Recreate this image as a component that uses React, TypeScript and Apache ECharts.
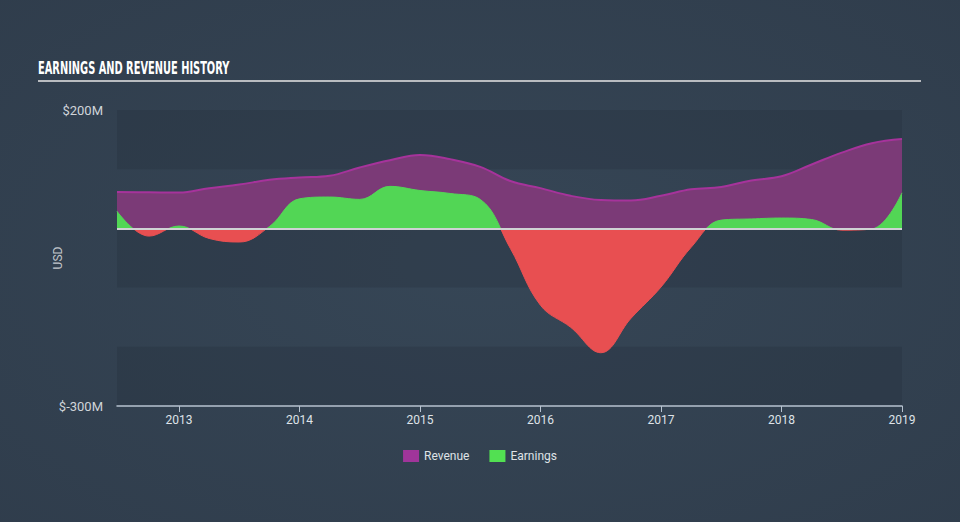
import React, { useEffect, useRef } from "react";
import * as echarts from "echarts";

// Quarterly dates (decimal years) and values in $M
const dates = [
  2012.485, 2012.75, 2013.0, 2013.25, 2013.5, 2013.75, 2014.0, 2014.25, 2014.5,
  2014.75, 2015.0, 2015.25, 2015.5, 2015.75, 2016.0, 2016.25, 2016.5, 2016.75,
  2017.0, 2017.25, 2017.5, 2017.75, 2018.0, 2018.25, 2018.5, 2018.75, 2019.0,
];
const revenue = [
  61.5, 61, 60.5, 68, 74, 82, 86, 89, 103, 115, 124, 117, 104, 80, 68, 55, 48,
  47, 55, 66, 70, 81, 88, 108, 128, 144, 151,
];
const earnings = [
  29, -13, 4, -17, -23, 3, 50, 53, 49, 71, 64, 59, 49, -34, -130, -167, -210,
  -152, -99, -32, 14, 16, 17.5, 15, -3, -1, 60,
];
const xStart = 2012.485;
const xEnd = 2019.0;
const firstYear = 2013;
const yLabels: Record<number, string> = { 200: "$200M", [-300]: "$-300M" };

export default function App() {
  const ref = useRef<HTMLDivElement>(null);
  useEffect(() => {
    if (!ref.current) return;
    const chart = echarts.init(ref.current, null, { renderer: "svg" });
    const revData = dates.map((d, i) => [d, revenue[i]]);
    const earnData = dates.map((d, i) => [d, earnings[i]]);
    const gridLeft = 117;
    const gridRight = 58;
    const plotW = 960 - gridLeft - gridRight;
    const yearLeft = gridLeft + ((firstYear - xStart) / (xEnd - xStart)) * plotW;
    chart.setOption({
      animation: false,
      backgroundColor: {
        type: "radial",
        x: 0.5,
        y: 0.5,
        r: 0.8,
        colorStops: [
          { offset: 0, color: "#364656" },
          { offset: 1, color: "#2f3c4b" },
        ],
      },
      graphic: [
        {
          type: "text",
          left: 38,
          top: 59,
          scaleX: 0.58,
          style: {
            text: "EARNINGS AND REVENUE HISTORY",
            fill: "#ffffff",
            font: "bold 17px 'DejaVu Sans'",
          },
        },
        {
          type: "line",
          shape: { x1: 38, y1: 81, x2: 921, y2: 81 },
          style: { stroke: "#b9bcc0", lineWidth: 2 },
        },
      ],
      grid: [
        { left: gridLeft, right: gridRight, top: 110, bottom: 116 },
        { left: yearLeft, right: gridRight, top: 110, bottom: 116 },
      ],
      legend: {
        top: 445,
        left: "center",
        icon: "rect",
        itemWidth: 16,
        itemHeight: 12,
        itemGap: 20,
        textStyle: { color: "#dfe2e6", fontSize: 12, fontFamily: "Roboto" },
        data: [
          { name: "Revenue", itemStyle: { color: "#a0359a" } },
          { name: "Earnings", itemStyle: { color: "#52e052" } },
        ],
      },
      visualMap: {
        show: false,
        type: "piecewise",
        dimension: 1,
        seriesIndex: 1,
        pieces: [
          { gte: -1000, lt: 0, color: "#e84f51" },
          { gte: 0, lte: 1000, color: "#52d655" },
        ],
        outOfRange: { color: "#52d655" },
      },
      xAxis: [
        {
          type: "value",
          gridIndex: 0,
          min: xStart,
          max: xEnd,
          axisLine: {
            show: true,
            onZero: false,
            lineStyle: { color: "#b7c2cf", width: 1.5 },
          },
          axisTick: { show: false },
          axisLabel: { show: false },
          splitLine: { show: false },
        },
        {
          type: "value",
          gridIndex: 1,
          min: firstYear,
          max: xEnd,
          interval: 1,
          axisLine: { show: false, onZero: false },
          axisTick: { show: true, length: 6, lineStyle: { color: "#b7c2cf" } },
          axisLabel: {
            formatter: (v: number) => String(Math.round(v)),
            color: "#dfe3e8",
            fontSize: 12,
            fontFamily: "Roboto",
            margin: 8,
          },
          splitLine: { show: false },
        },
      ],
      yAxis: [
        {
          type: "value",
          gridIndex: 0,
          min: -300,
          max: 200,
          interval: 100,
          name: "USD",
          nameLocation: "middle",
          nameRotate: 90,
          nameGap: 53,
          nameMoveOverlap: false,
          nameTextStyle: { color: "#c2c6cc", fontSize: 12, fontFamily: "Roboto" },
          axisLine: { show: false },
          axisTick: { show: false },
          axisLabel: {
            formatter: (v: number) => yLabels[v] ?? "",
            color: "#d0d4d9",
            fontSize: 13,
            fontFamily: "Roboto",
            margin: 14,
          },
          splitLine: { show: false },
          splitArea: {
            show: true,
            areaStyle: { color: ["rgba(36,46,58,0.3)", "rgba(0,0,0,0)"] },
          },
        },
        {
          type: "value",
          gridIndex: 1,
          min: -300,
          max: 200,
          show: false,
        },
      ],
      series: [
        {
          name: "Revenue",
          type: "line",
          xAxisIndex: 0,
          yAxisIndex: 0,
          data: revData,
          smooth: 0.4,
          symbol: "none",
          color: "#a0359a",
          lineStyle: { color: "#a6339b", width: 2 },
          areaStyle: { color: "#7b3a77", opacity: 1 },
          z: 2,
        },
        {
          name: "Earnings",
          type: "line",
          xAxisIndex: 0,
          yAxisIndex: 0,
          data: earnData,
          smooth: 0.4,
          symbol: "none",
          color: "#52e052",
          lineStyle: { width: 1 },
          areaStyle: { opacity: 1 },
          z: 3,
          markLine: {
            silent: true,
            symbol: "none",
            label: { show: false },
            lineStyle: { color: "#cfd2d4", width: 2, type: "solid" },
            data: [{ yAxis: 0 }],
          },
        },
      ],
    });
    return () => chart.dispose();
  }, []);
  return (
    <div
      ref={ref}
      style={{ position: "absolute", left: 0, top: 0, width: 960, height: 522 }}
    />
  );
}
